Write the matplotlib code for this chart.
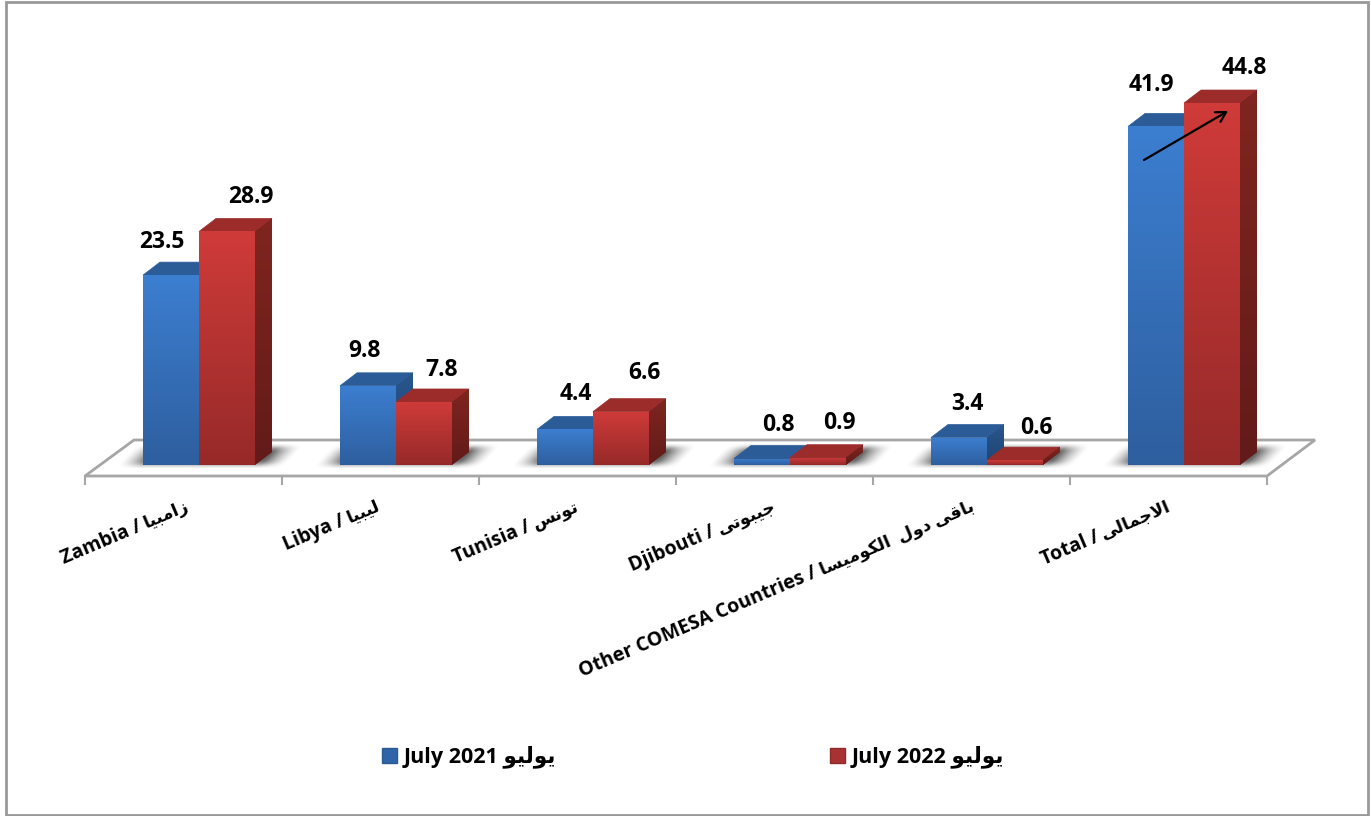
import numpy as np
import matplotlib
matplotlib.use('Agg')
import matplotlib.pyplot as plt
from matplotlib.patches import Patch, Polygon
from matplotlib.colors import to_rgb

plt.rcParams['font.family'] = ['Open Sans', 'DejaVu Sans']
plt.rcParams['font.weight'] = 'bold'

# data
latin_names = ['Zambia /', 'Libya /', 'Tunisia /', 'Djibouti /', 'Other COMESA Countries /', 'Total /']
arabic_names = ['زامبيا', 'ليبيا', 'تونس', 'جيبوتى', 'باقى دول  الكوميسا', 'الاجمالى']
july_2021 = [23.5, 9.8, 4.4, 0.8, 3.4, 41.9]
july_2022 = [28.9, 7.8, 6.6, 0.9, 0.6, 44.8]
series_names = ['July 2021', 'July 2022']
arabic_month = 'يوليو'

# label offsets from the bar top, in pixels (placed by hand in the original)
offsets_2021 = [(-9, 33), (-4, 35), (11, 35), (16, 34), (8, 34), (-5, 41)]
offsets_2022 = [(24, 34), (18, 32), (23, 39), (21, 35), (21, 32), (32, 35)]

# presentation forms: isolated, final, initial, medial
FORMS = {
    'ا': (0xFE8D, 0xFE8E), 'د': (0xFEA9, 0xFEAA), 'ز': (0xFEAF, 0xFEB0), 'و': (0xFEED, 0xFEEE),
    'ى': (0xFEEF, 0xFEF0),
    'ب': (0xFE8F, 0xFE90, 0xFE91, 0xFE92), 'ت': (0xFE95, 0xFE96, 0xFE97, 0xFE98),
    'ج': (0xFE9D, 0xFE9E, 0xFE9F, 0xFEA0), 'س': (0xFEB1, 0xFEB2, 0xFEB3, 0xFEB4),
    'ق': (0xFED5, 0xFED6, 0xFED7, 0xFED8), 'ك': (0xFED9, 0xFEDA, 0xFEDB, 0xFEDC),
    'ل': (0xFEDD, 0xFEDE, 0xFEDF, 0xFEE0), 'م': (0xFEE1, 0xFEE2, 0xFEE3, 0xFEE4),
    'ن': (0xFEE5, 0xFEE6, 0xFEE7, 0xFEE8), 'ي': (0xFEF1, 0xFEF2, 0xFEF3, 0xFEF4),
}


def shape(word):
    # matplotlib does no arabic shaping, so do it here and return visual order
    word = word.replace('لا', '\uFEFB')
    out = []
    for i, ch in enumerate(word):
        if ch not in FORMS and ch != '\uFEFB':
            out.append(ch)
            continue
        prev = word[i - 1] if i > 0 else ' '
        nxt = word[i + 1] if i + 1 < len(word) else ' '
        joins_prev = prev in FORMS and len(FORMS[prev]) == 4
        if ch == '\uFEFB':
            out.append('\uFEFC' if joins_prev else '\uFEFB')
            continue
        forms = FORMS[ch]
        joins_next = len(forms) == 4 and (nxt in FORMS or nxt == '\uFEFB')
        if joins_prev and joins_next:
            out.append(chr(forms[3]))
        elif joins_prev:
            out.append(chr(forms[1]))
        elif joins_next:
            out.append(chr(forms[2]))
        else:
            out.append(chr(forms[0]))
    return ''.join(reversed(out))


W, H = 1371, 816
PX_Y = 8.08   # pixels per unit
PX_X = 197.0  # pixels per category
X0 = 85.0     # first tick pixel
Y0 = 465.0    # baseline pixel
DX = 17 / PX_X
DY = 13 / PX_Y
BAR_W = 56 / PX_X
SHIFT = 15.5 / PX_X
ANGLE = 23


def xd(px):
    return (px - X0) / PX_X - 0.5


def yd(py):
    return (Y0 - py) / PX_Y


fig = plt.figure(figsize=(W / 100, H / 100), dpi=100)
ax = fig.add_axes([0, 0, 1, 1])
ax.axis('off')


def gradient(art_extent, top, bottom, clip, z):
    c = np.linspace(to_rgb(top), to_rgb(bottom), 64).reshape(64, 1, 3)
    im = ax.imshow(c, extent=art_extent, aspect='auto', zorder=z, interpolation='bilinear')
    im.set_clip_path(clip)


# outer frame
ax.add_patch(plt.Rectangle((xd(6), yd(815)), 1362 / PX_X, 813 / PX_Y, fill=False,
                           ec='#999999', lw=2, zorder=1))

# floor
floor_color = '#a6a6a6'
ax.add_patch(Polygon([(xd(85), yd(476)), (xd(1267), yd(476)), (xd(1315), yd(440)), (xd(134), yd(440))],
                     closed=True, fc='white', ec=floor_color, lw=2, zorder=2))
for i in range(7):
    tx = xd(X0 + PX_X * i)
    ax.plot([tx, tx], [yd(476), yd(484)], color=floor_color, lw=1.5, zorder=2)

# soft shadows on the floor, slanted like the floor
sx, sy = np.meshgrid(np.linspace(-1, 1, 200), np.linspace(-1, 1, 40))
across = np.clip((1 - np.abs((sx + 0.12 * sy) * 1.12)) / 0.3, 0, 1) ** 1.5
alpha = across * np.exp(-(sy / 0.8) ** 4) * 0.6
shadow = np.zeros((40, 200, 4))
shadow[..., 3] = alpha
for i in range(6):
    left = 115 + PX_X * i
    ax.imshow(shadow, extent=(xd(left), xd(left + 190), yd(468), yd(444)), aspect='auto', zorder=3)

# bars
x = np.arange(6)
styles = [
    ('#3C7ED0', '#2E5F9F', '#2C5C98', '#28568E', '#1F4470'),
    ('#CF3B39', '#962A29', '#9C2C2A', '#80251F', '#621B19'),
]
z = 10
for i in x:
    for k, values in enumerate([july_2021, july_2022]):
        v = values[i]
        left = i + SHIFT - BAR_W + k * BAR_W
        front_top, front_bot, top_col, side_top, side_bot = styles[k]
        bar = ax.bar(left, v, BAR_W, align='edge', color='none', edgecolor='none', zorder=z + 3)[0]
        right = left + BAR_W
        top_poly = Polygon([(left, v), (right, v), (right + DX, v + DY), (left + DX, v + DY)],
                           closed=True, fc=top_col, ec=top_col, lw=0.5, zorder=z)
        ax.add_patch(top_poly)
        side_poly = Polygon([(right, 0), (right + DX, DY), (right + DX, v + DY), (right, v)],
                            closed=True, fc=side_bot, ec='none', zorder=z)
        ax.add_patch(side_poly)
        gradient((right, right + DX, 0, v + DY), side_top, side_bot, side_poly, z + 1)
        gradient((left, right, 0, v), front_top, front_bot, bar, z + 2)
        z += 5

# value labels
for i in x:
    for k, (values, offs) in enumerate([(july_2021, offsets_2021), (july_2022, offsets_2022)]):
        cx = i + SHIFT - BAR_W + (k + 0.5) * BAR_W
        ax.annotate(f'{values[i]:.1f}', (cx, values[i]), xytext=offs[i], textcoords='offset pixels',
                    ha='center', va='center', fontsize=16.5, fontweight='bold', color='black', zorder=200)

ax.set_xlim(xd(0), xd(W))
ax.set_ylim(yd(H), yd(0))

# category labels: arabic part first, the latin part is set against its left end
label_ends = [190, 381, 580, 777, 975, 1172]
renderer = fig.canvas.get_renderer()
for lat, ar, ex in zip(latin_names, arabic_names, label_ends):
    ey = 510
    t = ax.text(xd(ex), yd(ey), shape(ar), rotation=0, rotation_mode='anchor', ha='right', va='baseline',
                fontsize=12.5, fontweight='bold', color='black', zorder=200)
    width = t.get_window_extent(renderer).width + 4
    t.set_rotation(ANGLE)
    jx = ex - width * np.cos(np.radians(ANGLE))
    jy = ey + width * np.sin(np.radians(ANGLE))
    ax.text(xd(jx), yd(jy), lat, rotation=ANGLE, rotation_mode='anchor', ha='right', va='baseline',
            fontsize=14, fontweight='bold', color='black', zorder=200)

# arrow on the total bars
ax.annotate('', xy=(1228, H - 111), xytext=(1144, H - 160), xycoords='figure pixels',
            textcoords='figure pixels', zorder=300,
            arrowprops=dict(arrowstyle='->,head_length=0.7,head_width=0.4', color='black', lw=1.6,
                            shrinkA=0, shrinkB=0))

handles = [Patch(facecolor='#2F64A6', edgecolor='#2A5A96'), Patch(facecolor='#A83231', edgecolor='#8f2a29')]
labels = [name + ' ' + shape(arabic_month) for name in series_names]
ax.legend(handles, labels, loc='center left', bbox_to_anchor=(382 / W, 1 - 757 / H), ncol=2, frameon=False,
          prop={'family': ['Open Sans', 'DejaVu Sans'], 'weight': 'bold', 'size': 15.5},
          handlelength=0.7, handleheight=0.7, handletextpad=0.3, columnspacing=12.72, borderpad=0, borderaxespad=0)

fig.savefig('out.png', dpi=100, facecolor='white')
